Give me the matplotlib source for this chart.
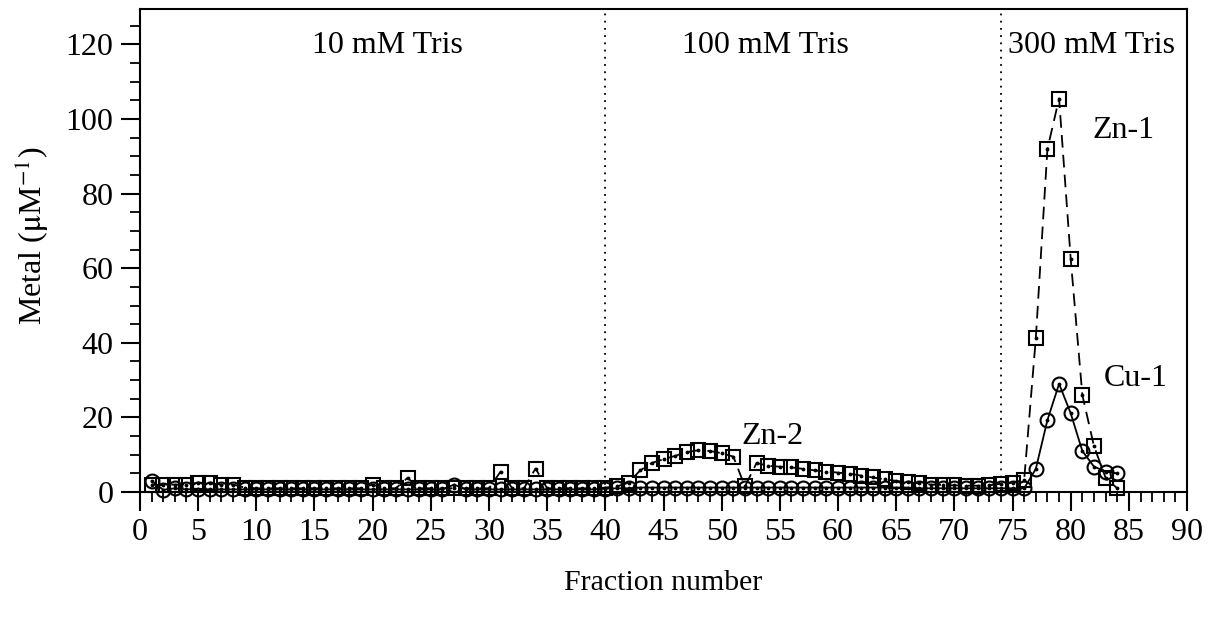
import matplotlib
matplotlib.use("Agg")
import matplotlib.pyplot as plt
import numpy as np

# fraction numbers and measured metal concentrations
fractions = list(range(1, 85))

zinc = [2.0, 1.8, 2.0, 2.0, 2.5, 2.3, 2.0, 2.0, 1.2, 1.0,
        1.0, 1.0, 1.0, 1.0, 1.0, 1.0, 1.0, 1.0, 1.0, 2.0,
        1.0, 1.0, 3.8, 1.0, 1.0, 1.0, 1.0, 1.0, 1.0, 1.0,
        5.5, 1.0, 1.0, 6.3, 1.0, 1.0, 1.0, 1.0, 1.0, 1.2,
        1.5, 2.5, 5.8, 7.8, 8.8, 9.7, 10.7, 11.2, 11.0, 10.4,
        9.5, 1.5, 7.8, 7.0, 6.8, 6.6, 6.2, 5.8, 5.5, 5.2,
        4.9, 4.4, 3.9, 3.4, 3.0, 2.6, 2.3, 2.0, 1.9, 1.8,
        1.7, 1.7, 1.8, 2.2, 2.5, 3.3, 41.2, 92.0, 105.5, 62.5,
        26.0, 12.3, 3.8, 1.0]

copper = [3.0, 0.6, 1.0, 0.7, 0.9, 0.7, 0.7, 0.7, 0.7, 0.7,
          0.7, 0.7, 0.7, 0.7, 0.7, 0.7, 0.7, 0.7, 0.7, 0.7,
          0.7, 0.7, 0.7, 0.7, 0.7, 0.7, 2.0, 0.7, 0.7, 0.7,
          0.7, 0.7, 0.7, 0.7, 0.7, 0.7, 0.7, 0.7, 0.7, 0.9,
          1.0, 1.0, 1.2, 1.2, 1.2, 1.2, 1.2, 1.2, 1.2, 1.2,
          1.2, 1.2, 1.2, 1.2, 1.2, 1.2, 1.2, 1.2, 1.2, 1.2,
          1.2, 1.2, 1.2, 1.2, 1.2, 1.2, 1.0, 1.0, 1.0, 1.0,
          1.0, 1.0, 1.0, 1.0, 1.0, 1.0, 6.2, 19.3, 29.0, 21.1,
          11.0, 6.8, 5.5, 5.0]

buffer_bounds = [40, 74]
buffer_labels = ["10 mM Tris", "100 mM Tris", "300 mM Tris"]
buffer_label_x = [21.3, 53.8, 81.8]

peak_labels = ["Zn-2", "Zn-1", "Cu-1"]
peak_label_xy = [(54.4, 15.0), (84.5, 96.8), (85.6, 30.5)]

plt.rcParams['font.family'] = ['Liberation Serif', 'DejaVu Serif']
plt.rcParams['mathtext.fontset'] = 'stix'
fs = 23

fig = plt.figure(figsize=(12.16, 6.24), dpi=100)
ax = fig.add_axes([0.1151, 0.2115, 0.8611, 0.7741])

# Zn: dashed line with open squares
ax.plot(fractions, zinc, color='black', lw=1.3, linestyle=(0, (7, 4)),
        marker='s', ms=9.5, mfc='none', mec='black', mew=1.5, clip_on=False, zorder=3)
ax.plot(fractions, zinc, linestyle='none', marker='.', ms=3.5, color='black', clip_on=False, zorder=4)

# Cu: solid line with open circles
ax.plot(fractions, copper, color='black', lw=1.3, linestyle='-',
        marker='o', ms=10, mfc='none', mec='black', mew=1.5, clip_on=False, zorder=3)
ax.plot(fractions, copper, linestyle='none', marker='.', ms=3.5, color='black', clip_on=False, zorder=4)

for xb in buffer_bounds:
    ax.axvline(xb, color='black', lw=1.3, linestyle=(0, (1, 3)), zorder=1)

for lab, xl in zip(buffer_labels, buffer_label_x):
    ax.text(xl, 119.7, lab, ha='center', va='center', fontsize=fs)

for lab, (xl, yl) in zip(peak_labels, peak_label_xy):
    ax.text(xl, yl, lab, ha='center', va='center', fontsize=fs)

ax.set_xlim(0, 90)
ax.set_ylim(0, 129.5)
ax.set_xticks(np.arange(0, 91, 5))
ax.set_xticks(np.arange(0, 91, 1), minor=True)
ax.set_yticks(np.arange(0, 121, 20))
ax.set_yticks(np.arange(0, 130, 5), minor=True)

for sp in ax.spines.values():
    sp.set_linewidth(1.5)

ax.tick_params(axis='both', which='major', direction='out', length=14, width=1.5,
               labelsize=fs, pad=5)
ax.tick_params(axis='both', which='minor', direction='out', length=7, width=1.3)

ax.set_xlabel("Fraction number", fontsize=21.5, labelpad=16)
ax.set_ylabel(r"Metal ($\mathrm{\mu}$M$^{-1}$)", fontsize=fs, labelpad=10)
ax.yaxis.set_label_coords(-0.085, 0.53)

fig.savefig("out.png", dpi=100)
